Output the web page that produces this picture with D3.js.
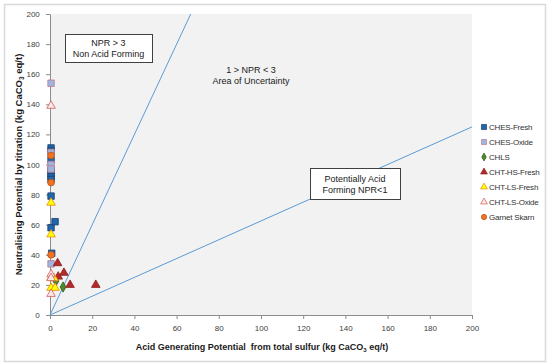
<!DOCTYPE html>
<html>
<head>
<meta charset="utf-8">
<script src="https://cdn.jsdelivr.net/npm/d3@7"></script>
<style>
  body { margin: 0; background: #fff; }
  text { font-family: "Liberation Sans", Arial, sans-serif; }
</style>
</head>
<body>
<div id="chart"></div>
<script>
const width = 550
const height = 364

const margin = { top: 14, right: 78, bottom: 49, left: 50 }

// series values [AGP, NP]
const chesFresh = [[0.5, 111], [0.5, 109], [0.5, 103], [0.5, 96], [0.5, 94], [0.5, 92], [0.5, 90], [0.5, 79], [0.5, 58], [2.4, 62], [0.8, 41]]
const chesOxide = [[0.5, 154], [0.5, 108], [0.5, 100], [0.5, 97], [0.5, 34]]
const chls = [[2.8, 22.6], [6.2, 18.6]]
const chtHsFresh = [[3.6, 34.4], [6.6, 28], [3.9, 25.5], [9.5, 20], [21.7, 20]]
const chtLsFresh = [[0.5, 74.6], [0.5, 53.5], [0.5, 24.8], [1.9, 24.4], [0.5, 18], [2.4, 18]]
const chtLsOxide = [[0.5, 139], [0.5, 27], [0.5, 24.5], [0.5, 14]]
const garnetSkarn = [[0.5, 106], [0.5, 88], [0.5, 40]]

const xTicks = [0, 20, 40, 60, 80, 100, 120, 140, 160, 180, 200]
const yTicks = [0, 20, 40, 60, 80, 100, 120, 140, 160, 180, 200]

// guide lines (end points)
const lineNpr3 = [[0, 0], [66.7, 200]]
const lineNpr1 = [[0, 0], [200, 125]]

const series = [
    { name: 'CHES-Fresh', data: chesFresh, shape: 'square', fill: '#2165aa', stroke: '#17406e' },
    { name: 'CHES-Oxide', data: chesOxide, shape: 'square', fill: '#9cb6df', stroke: '#c0798c' },
    { name: 'CHLS', data: chls, shape: 'diamond', fill: '#4e8a2c', stroke: '#2c5a16' },
    { name: 'CHT-HS-Fresh', data: chtHsFresh, shape: 'triangle', fill: '#b42a2a', stroke: '#8c1c1c' },
    { name: 'CHT-LS-Fresh', data: chtLsFresh, shape: 'triangle', fill: '#ffff00', stroke: '#e88a12' },
    { name: 'CHT-LS-Oxide', data: chtLsOxide, shape: 'triangle', fill: '#fbe9e9', stroke: '#d25a5a' },
    { name: 'Garnet Skarn', data: garnetSkarn, shape: 'circle', fill: '#f07324', stroke: '#b8521a' }
]

const svg = d3.select('#chart')
    .append('svg')
    .attr('width', width)
    .attr('height', height)

// outer chart border
svg.append('rect')
    .attr('x', 4.5).attr('y', 4.5)
    .attr('width', width - 9).attr('height', height - 7)
    .attr('fill', '#fff')
    .attr('stroke', '#d9d9d9')
    .attr('stroke-width', 1.5)

const x = d3.scaleLinear()
    .domain([0, 200])
    .range([margin.left, width - margin.right])

const y = d3.scaleLinear()
    .domain([0, 200])
    .range([height - margin.bottom, margin.top])

svg.append('rect')
    .attr('x', x(0)).attr('y', y(200))
    .attr('width', x(200) - x(0))
    .attr('height', y(0) - y(200))
    .attr('fill', '#f2f2f2')

const xAxis = svg.append('g')
    .attr('transform', `translate(0,${y(0)})`)
    .call(d3.axisBottom(x).tickValues(xTicks).tickSize(4).tickSizeOuter(0))
const yAxis = svg.append('g')
    .attr('transform', `translate(${x(0)},0)`)
    .call(d3.axisLeft(y).tickValues(yTicks).tickSize(4).tickSizeOuter(0))

;[xAxis, yAxis].forEach(a => {
    a.selectAll('path, line').attr('stroke', '#8c8c8c')
    a.selectAll('text')
        .attr('fill', '#404040')
        .style('font-size', '8px')
})
xAxis.selectAll('text').attr('dy', '1.1em')
yAxis.selectAll('text').attr('dx', '-0.4em')

// NPR lines
const line = d3.line().x(d => x(d[0])).y(d => y(d[1]))
svg.selectAll('.npr')
    .data([lineNpr3, lineNpr1])
    .enter().append('path')
    .attr('class', 'npr')
    .attr('d', line)
    .attr('fill', 'none')
    .attr('stroke', '#5b9bd5')
    .attr('stroke-width', 1)

// text boxes
const boxes = [
    { x: 65, y: 34, w: 87, h: 28, lines: ['NPR > 3', 'Non Acid Forming'] },
    { x: 205, y: 58, w: 92, h: 33, lines: ['1 > NPR < 3', 'Area of Uncertainty'] },
    { x: 310, y: 168, w: 90, h: 31, lines: ['Potentially Acid', 'Forming NPR<1'] }
]
const bx = svg.selectAll('.box').data(boxes).enter().append('g').attr('class', 'box')
bx.filter((d, i) => i !== 1).append('rect')
    .attr('x', d => d.x + 0.5).attr('y', d => d.y + 0.5)
    .attr('width', d => d.w).attr('height', d => d.h)
    .attr('fill', '#fff')
    .attr('stroke', '#404040')
    .attr('stroke-width', 1)
bx.each(function(d) {
    d3.select(this).selectAll('text')
        .data(d.lines)
        .enter().append('text')
        .attr('x', d.x + d.w / 2)
        .attr('y', (t, i) => d.y + d.h / 2 - 2 + i * 11)
        .attr('text-anchor', 'middle')
        .attr('fill', '#1a1a1a')
        .style('font-size', '9px')
        .text(t => t)
})

// marker shapes
const symbolFor = shape => {
    if (shape === 'square') return d3.symbol(d3.symbolSquare, 42)
    if (shape === 'diamond') return d3.symbol(d3.symbolDiamond, 30)
    if (shape === 'triangle') return d3.symbol(d3.symbolTriangle, 32)
    return d3.symbol(d3.symbolCircle, 36)
}

series.forEach(s => {
    svg.append('g')
        .selectAll('path')
        .data(s.data)
        .enter().append('path')
        .attr('transform', d => `translate(${x(d[0])},${y(d[1])})`)
        .attr('d', symbolFor(s.shape)())
        .attr('fill', s.fill)
        .attr('stroke', s.stroke)
        .attr('stroke-width', 0.8)
})

// legend
const legend = svg.append('g')
    .attr('transform', 'translate(484,127)')
const items = legend.selectAll('g')
    .data(series)
    .enter().append('g')
    .attr('transform', (d, i) => `translate(0,${i * 15})`)
items.append('path')
    .attr('d', d => {
        if (d.shape === 'square') return d3.symbol(d3.symbolSquare, 26)()
        if (d.shape === 'diamond') return d3.symbol(d3.symbolDiamond, 18)()
        if (d.shape === 'triangle') return d3.symbol(d3.symbolTriangle, 20)()
        return d3.symbol(d3.symbolCircle, 22)()
    })
    .attr('fill', d => d.fill)
    .attr('stroke', d => d.stroke)
    .attr('stroke-width', 0.7)
items.append('text')
    .attr('x', 5)
    .attr('dy', '0.35em')
    .attr('fill', '#333')
    .style('font-size', '8px')
    .style('letter-spacing', '-0.2px')
    .text(d => d.name)

// axis titles
const xt = svg.append('text')
    .attr('x', 262)
    .attr('y', 350)
    .attr('text-anchor', 'middle')
    .attr('font-weight', 'bold')
    .attr('fill', '#1a1a1a')
    .style('font-size', '9px')
xt.append('tspan').text('Acid Generating Potential\u00a0 from total sulfur (kg CaCO')
xt.append('tspan').attr('dy', 2).style('font-size', '6px').text('3')
xt.append('tspan').attr('dy', -2).text(' eq/t)')

const yt = svg.append('text')
    .attr('transform', `translate(22,${(y(0) + y(200)) / 2}) rotate(-90)`)
    .attr('text-anchor', 'middle')
    .attr('font-weight', 'bold')
    .attr('fill', '#1a1a1a')
    .style('font-size', '9.5px')
yt.append('tspan').text('Neutralising Potential by titration (kg CaCO')
yt.append('tspan').attr('dy', 2).style('font-size', '6.5px').text('3')
yt.append('tspan').attr('dy', -2).text(' eq/t)')
</script>
</body>
</html>
